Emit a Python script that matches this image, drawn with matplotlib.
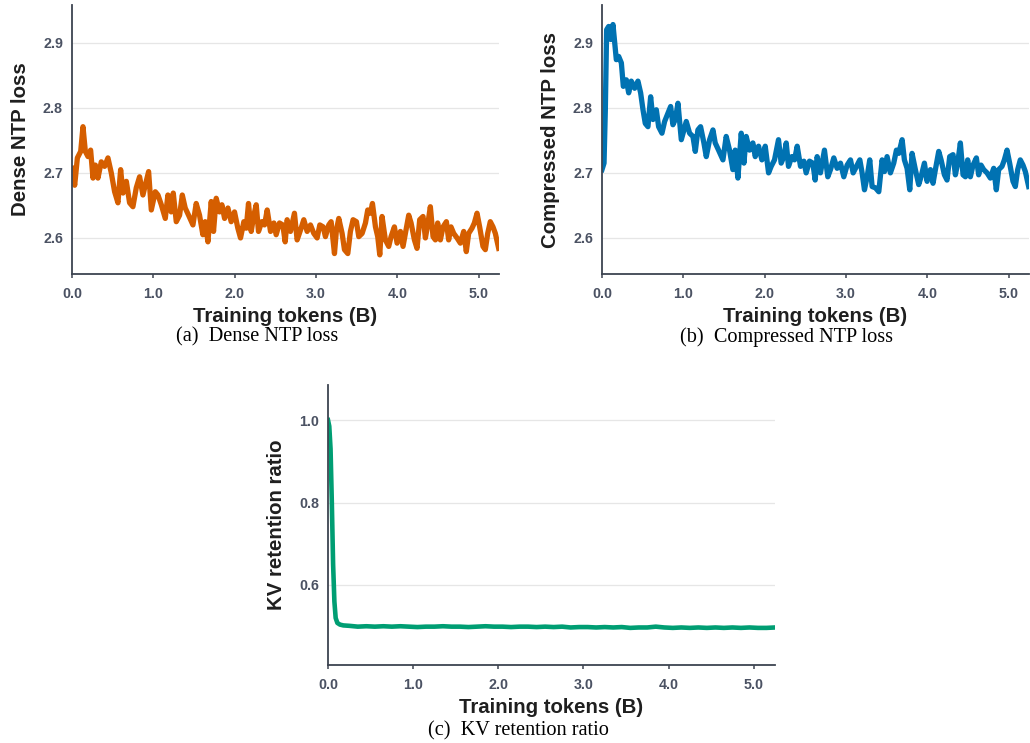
import matplotlib
matplotlib.use("Agg")
import matplotlib.pyplot as plt

# ---------------- data ----------------
dense_x = [0.0, 0.033, 0.066, 0.107, 0.135, 0.164, 0.197, 0.229, 0.258, 0.287, 0.319, 0.360, 0.401, 0.442,
           0.483, 0.524, 0.565, 0.598, 0.627, 0.668, 0.708, 0.749, 0.790, 0.831, 0.872, 0.913, 0.942, 0.975,
           1.024, 1.057, 1.098, 1.147, 1.179, 1.220, 1.245, 1.282, 1.323, 1.356, 1.392, 1.433, 1.487, 1.527,
           1.568, 1.609, 1.638, 1.671, 1.712, 1.740, 1.773, 1.814, 1.843, 1.876, 1.917, 1.957, 1.998, 2.039,
           2.072, 2.113, 2.142, 2.170, 2.203, 2.236, 2.265, 2.293, 2.334, 2.367, 2.400, 2.441, 2.482, 2.510,
           2.551, 2.592, 2.621, 2.645,
           2.686, 2.735, 2.768, 2.809, 2.850, 2.891, 2.932, 2.973, 3.014, 3.047, 3.088, 3.116, 3.157, 3.186,
           3.227, 3.251, 3.280, 3.321, 3.350, 3.391, 3.423, 3.456, 3.497, 3.526, 3.567, 3.608, 3.636, 3.669,
           3.694, 3.731, 3.759, 3.784, 3.812, 3.853, 3.894, 3.923, 3.964, 3.997, 4.038, 4.070, 4.099, 4.140,
           4.169, 4.210, 4.242, 4.275, 4.316, 4.345, 4.373, 4.406, 4.439, 4.468, 4.496, 4.529, 4.562, 4.603,
           4.631, 4.660, 4.693, 4.734, 4.775, 4.816, 4.848, 4.877, 4.918, 4.947, 4.980, 5.012, 5.053, 5.082,
           5.111, 5.143, 5.176, 5.205, 5.246]
dense_loss = [2.707, 2.681, 2.723, 2.733, 2.771, 2.733, 2.725, 2.735, 2.692, 2.712, 2.692, 2.717, 2.710, 2.723,
              2.700, 2.671, 2.654, 2.705, 2.669, 2.687, 2.654, 2.648, 2.677, 2.694, 2.666, 2.687, 2.702, 2.643,
              2.671, 2.666, 2.651, 2.630, 2.666, 2.640, 2.669, 2.625, 2.635, 2.666, 2.646, 2.635, 2.620, 2.653,
              2.635, 2.605, 2.625, 2.594, 2.656, 2.610, 2.661, 2.640, 2.651, 2.630, 2.646, 2.625, 2.640, 2.615,
              2.600, 2.625, 2.615, 2.653, 2.610, 2.635, 2.651, 2.610, 2.625, 2.620, 2.643, 2.610, 2.623, 2.605,
              2.623, 2.620, 2.594, 2.628,
              2.610, 2.638, 2.597, 2.612, 2.628, 2.610, 2.620, 2.607, 2.600, 2.620, 2.617, 2.602, 2.620, 2.625,
              2.576, 2.612, 2.630, 2.607, 2.582, 2.576, 2.610, 2.628, 2.625, 2.602, 2.607, 2.623, 2.643, 2.638,
              2.653, 2.617, 2.602, 2.574, 2.633, 2.597, 2.587, 2.602, 2.617, 2.592, 2.610, 2.587, 2.607, 2.635,
              2.623, 2.597, 2.584, 2.628, 2.633, 2.600, 2.620, 2.648, 2.602, 2.597, 2.623, 2.597, 2.617, 2.625,
              2.597, 2.617, 2.607, 2.600, 2.592, 2.610, 2.579, 2.607, 2.615, 2.623, 2.638, 2.617, 2.587, 2.582,
              2.607, 2.625, 2.617, 2.607, 2.584]

comp_x = [0.0, 0.025, 0.041, 0.057, 0.082, 0.107, 0.135, 0.156, 0.176, 0.205, 0.238, 0.262, 0.299, 0.328,
          0.360, 0.401, 0.442, 0.475, 0.504, 0.532, 0.565, 0.598, 0.627, 0.668, 0.696, 0.737, 0.770, 0.811,
          0.844, 0.872, 0.901, 0.934, 0.975, 1.007, 1.036, 1.077, 1.118, 1.147, 1.179, 1.212, 1.253, 1.282,
          1.323, 1.364, 1.392, 1.433, 1.487, 1.527, 1.568, 1.609, 1.638, 1.671, 1.712, 1.745, 1.773, 1.814,
          1.855, 1.884, 1.925, 1.966, 2.007, 2.048, 2.080, 2.121, 2.170, 2.203, 2.236, 2.265, 2.293, 2.334,
          2.367, 2.400, 2.441, 2.482, 2.510, 2.551, 2.592, 2.621, 2.645,
          2.686, 2.735, 2.776, 2.809, 2.850, 2.891, 2.932, 2.973, 3.014, 3.055, 3.088, 3.129, 3.170, 3.198,
          3.227, 3.260, 3.292, 3.321, 3.362, 3.403, 3.444, 3.473, 3.505, 3.546, 3.587, 3.620, 3.649, 3.690,
          3.718, 3.751, 3.784, 3.812, 3.853, 3.894, 3.923, 3.964, 3.997, 4.038, 4.070, 4.099, 4.140, 4.169,
          4.210, 4.242, 4.275, 4.316, 4.345, 4.373, 4.406, 4.439, 4.468, 4.496, 4.529, 4.562, 4.603, 4.631,
          4.660, 4.693, 4.734, 4.775, 4.816, 4.848, 4.877, 4.918, 4.947, 4.980, 5.012, 5.053, 5.082, 5.111,
          5.143, 5.176, 5.205, 5.246]
comp_loss = [2.705, 2.715, 2.797, 2.920, 2.925, 2.905, 2.928, 2.900, 2.874, 2.879, 2.869, 2.833, 2.843, 2.823,
             2.841, 2.830, 2.841, 2.823, 2.797, 2.776, 2.771, 2.817, 2.782, 2.797, 2.771, 2.761, 2.779, 2.792,
             2.802, 2.774, 2.782, 2.807, 2.751, 2.766, 2.779, 2.761, 2.756, 2.733, 2.766, 2.771, 2.746, 2.725,
             2.751, 2.766, 2.746, 2.735, 2.720, 2.756, 2.735, 2.705, 2.735, 2.692, 2.761, 2.715, 2.756, 2.735,
             2.746, 2.725, 2.741, 2.720, 2.741, 2.700, 2.710, 2.720, 2.751, 2.715, 2.725, 2.746, 2.710, 2.725,
             2.720, 2.741, 2.710, 2.718, 2.700, 2.718, 2.715, 2.689, 2.725,
             2.700, 2.735, 2.694, 2.705, 2.723, 2.707, 2.715, 2.694, 2.712, 2.720, 2.700, 2.710, 2.720, 2.700,
             2.674, 2.694, 2.720, 2.679, 2.677, 2.671, 2.720, 2.702, 2.725, 2.700, 2.715, 2.735, 2.730, 2.751,
             2.720, 2.707, 2.674, 2.730, 2.705, 2.682, 2.694, 2.715, 2.687, 2.705, 2.684, 2.705, 2.733, 2.720,
             2.697, 2.689, 2.725, 2.728, 2.697, 2.715, 2.746, 2.697, 2.694, 2.720, 2.694, 2.712, 2.723, 2.697,
             2.712, 2.705, 2.700, 2.692, 2.707, 2.674, 2.705, 2.710, 2.720, 2.735, 2.715, 2.687, 2.679, 2.705,
             2.720, 2.712, 2.702, 2.679]

kv_x = [0.0, 0.015, 0.03, 0.045, 0.06, 0.075, 0.09, 0.11, 0.14, 0.18, 0.25, 0.35, 0.45, 0.55, 0.65, 0.75,
        0.85, 0.95, 1.05, 1.15, 1.25, 1.35, 1.45, 1.55, 1.65, 1.75, 1.85, 1.95, 2.05, 2.15, 2.25, 2.35, 2.45,
        2.55, 2.65, 2.75, 2.85, 2.95, 3.05, 3.15, 3.25, 3.35, 3.45, 3.55, 3.65, 3.75, 3.85, 3.95, 4.05, 4.15,
        4.25, 4.35, 4.45, 4.55, 4.65, 4.75, 4.85, 4.95, 5.05, 5.15, 5.25]
kv_ratio = [1.0, 0.985, 0.93, 0.80, 0.65, 0.56, 0.52, 0.508, 0.504, 0.502, 0.501, 0.499, 0.500, 0.499, 0.500,
            0.499, 0.500, 0.499, 0.498, 0.499, 0.499, 0.500, 0.499, 0.499, 0.498, 0.499, 0.500, 0.499, 0.499,
            0.498, 0.499, 0.499, 0.498, 0.499, 0.498, 0.499, 0.497, 0.498, 0.498, 0.497, 0.498, 0.497, 0.498,
            0.496, 0.497, 0.497, 0.499, 0.497, 0.496, 0.497, 0.496, 0.497, 0.496, 0.497, 0.496, 0.497, 0.496,
            0.497, 0.496, 0.496, 0.497]

x_ticks = [0.0, 1.0, 2.0, 3.0, 4.0, 5.0]
x_ticklabels = ["0.0", "1.0", "2.0", "3.0", "4.0", "5.0"]
loss_ticks = [2.6, 2.7, 2.8, 2.9]
kv_ticks = [0.6, 0.8, 1.0]

xlabel = "Training tokens (B)"
captions = ["(a)  Dense NTP loss", "(b)  Compressed NTP loss", "(c)  KV retention ratio"]

# ---------------- style ----------------
W, H = 1030, 743
fig = plt.figure(figsize=(W / 100, H / 100), dpi=100)
SANS = ["Liberation Sans", "DejaVu Sans"]
SERIF = ["Liberation Serif", "DejaVu Serif"]
SPINE = "#3d4451"
TICKC = "#4b5263"
LABC = "#1f1f1f"


def px_axes(l, r, t, b):
    return fig.add_axes([l / W, (H - b) / H, (r - l) / W, (b - t) / H])


def style(ax, yticks, ylim, ylabel):
    ax.set_xlim(0, 5.25)
    ax.set_ylim(*ylim)
    ax.set_xticks(x_ticks)
    ax.set_xticklabels(x_ticklabels)
    ax.set_yticks(yticks)
    ax.set_yticklabels([f"{v:.1f}" for v in yticks])
    for s in ("top", "right"):
        ax.spines[s].set_visible(False)
    for s in ("left", "bottom"):
        ax.spines[s].set_color(SPINE)
        ax.spines[s].set_linewidth(1.3)
    ax.grid(axis="y", color="#e6e6e6", linewidth=0.9)
    ax.set_axisbelow(True)
    ax.tick_params(axis="x", length=3, width=1.1, color=SPINE, pad=6.5)
    ax.tick_params(axis="y", length=0, pad=6.5)
    for lab in ax.get_xticklabels() + ax.get_yticklabels():
        lab.set_family(SANS)
        lab.set_fontweight("bold")
        lab.set_fontsize(10.3)
        lab.set_color(TICKC)
    ax.set_xlabel(xlabel, family=SANS, fontweight="bold", fontsize=14.7, color=LABC, labelpad=4)
    ax.set_ylabel(ylabel, family=SANS, fontweight="bold", fontsize=14.7, color=LABC, labelpad=9.5)


ax1 = px_axes(72, 499, 5, 274)
ax1.plot(dense_x, dense_loss, color="#d55e00", linewidth=3.8, solid_joinstyle="round")
style(ax1, loss_ticks, (2.5446, 2.958), "Dense NTP loss")

ax2 = px_axes(602, 1029, 5, 274)
ax2.plot(comp_x, comp_loss, color="#0072b2", linewidth=3.8, solid_joinstyle="round")
style(ax2, loss_ticks, (2.5446, 2.958), "Compressed NTP loss")

ax3 = px_axes(328, 775, 385, 665)
ax3.plot(kv_x, kv_ratio, color="#009e73", linewidth=3.3, solid_joinstyle="round")
style(ax3, kv_ticks, (0.406, 1.085), "KV retention ratio")

fig.text(257 / W, 1 - 337 / H, captions[0], family=SERIF, fontsize=14.6, ha="center", va="center")
fig.text(787 / W, 1 - 337 / H, captions[1], family=SERIF, fontsize=14.6, ha="center", va="center")
fig.text(518 / W, 1 - 731 / H, captions[2], family=SERIF, fontsize=14.6, ha="center", va="center")

fig.savefig("out.png", dpi=100)
